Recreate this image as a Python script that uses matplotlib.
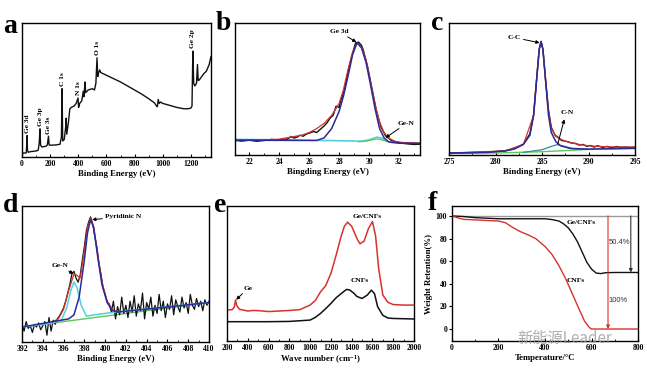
import numpy as np
import matplotlib
matplotlib.use("Agg")
import matplotlib.pyplot as plt
from matplotlib.ticker import MultipleLocator

plt.rcParams['font.family'] = ['Liberation Serif', 'DejaVu Serif']
plt.rcParams['font.weight'] = 'bold'
plt.rcParams['mathtext.fontset'] = 'custom'
plt.rcParams['mathtext.rm'] = 'Liberation Serif:bold'
plt.rcParams['mathtext.it'] = 'Liberation Serif:bold'

W, H = 647, 371

# ---- a: XPS survey (eV, intensity) ----
a_x = [0, 10, 30, 33, 36, 39, 45, 60, 100, 115, 122, 128, 132, 140, 170, 180, 188, 193, 200,
       240, 270, 280, 285, 289, 300, 310, 314, 318, 330, 340, 350, 370, 385, 398, 402, 410,
       425, 435, 440, 448, 452, 470, 500, 515, 525, 533, 538, 545, 552, 560, 580, 600, 650,
       700, 750, 800, 850, 900, 940, 957, 962, 968, 975, 985, 1000, 1050, 1100, 1150, 1180,
       1200, 1208, 1214, 1220, 1228, 1240, 1247, 1252, 1260, 1290, 1310, 1330, 1343]
a_y = [0.02, 0.03, 0.03, 0.08, 0.16, 0.05, 0.035, 0.04, 0.045, 0.05, 0.10, 0.21, 0.09, 0.075,
       0.08, 0.09, 0.155, 0.09, 0.088, 0.09, 0.095, 0.15, 0.51, 0.12, 0.13, 0.22, 0.29, 0.17,
       0.26, 0.36, 0.37, 0.38, 0.40, 0.44, 0.37, 0.40, 0.42, 0.49, 0.45, 0.56, 0.48, 0.50,
       0.51, 0.50, 0.55, 0.74, 0.60, 0.63, 0.65, 0.63, 0.62, 0.61, 0.585, 0.56, 0.53, 0.50,
       0.47, 0.435, 0.405, 0.38, 0.375, 0.43, 0.40, 0.41, 0.40, 0.385, 0.37, 0.36, 0.36,
       0.365, 0.38, 0.79, 0.55, 0.53, 0.55, 0.69, 0.57, 0.575, 0.62, 0.64, 0.69, 0.75]
a_peaks = ["Ge 3d", "Ge 3p", "Ge 3s", "C 1s", "N 1s", "O 1s", "Ge 2p"]
a_peak_x = [36, 128, 188, 285, 400, 533, 1214]
a_peak_y = [0.17, 0.22, 0.165, 0.52, 0.45, 0.75, 0.80]

# ---- b: Ge 3d ----
b_dx = [21.1, 21.5, 22.0, 22.5, 23.0, 23.5, 24.0, 24.3, 24.5, 24.8, 25.0, 25.2, 25.4, 25.6,
        25.8, 26.0, 26.3, 26.5, 26.7, 27.0, 27.2, 27.4, 27.6, 27.8, 28.0, 28.1, 28.3, 28.5,
        28.7, 28.9, 29.1, 29.3, 29.5, 29.6, 29.9, 30.2, 30.5, 30.8, 31.1, 31.5, 32.0, 32.5,
        33.0, 33.4]
b_dy = [0.11, 0.105, 0.112, 0.104, 0.11, 0.118, 0.112, 0.124, 0.118, 0.14, 0.128, 0.136,
        0.15, 0.142, 0.158, 0.165, 0.178, 0.17, 0.19, 0.22, 0.245, 0.28, 0.3, 0.37, 0.36,
        0.41, 0.47, 0.58, 0.68, 0.77, 0.85, 0.855, 0.83, 0.8, 0.67, 0.5, 0.33, 0.21, 0.145,
        0.11, 0.092, 0.085, 0.08, 0.082]
b_rx = [21.1, 23.0, 24.0, 24.5, 25.0, 25.5, 26.0, 26.5, 27.0, 27.5, 28.0, 28.3, 28.6, 28.9,
        29.2, 29.5, 29.8, 30.1, 30.4, 30.7, 31.0, 31.3, 31.7, 32.2, 33.4]
b_ry = [0.115, 0.115, 0.12, 0.13, 0.14, 0.15, 0.17, 0.2, 0.24, 0.3, 0.39, 0.5, 0.65, 0.78,
        0.848, 0.82, 0.72, 0.55, 0.38, 0.25, 0.17, 0.13, 0.105, 0.095, 0.09]
b_bx = [21.1, 26.5, 27.0, 27.5, 28.0, 28.3, 28.6, 28.9, 29.2, 29.5, 29.8, 30.1, 30.4, 30.7,
        31.0, 31.3, 31.6, 32.0, 33.4]
b_by = [0.112, 0.11, 0.13, 0.2, 0.33, 0.45, 0.6, 0.76, 0.85, 0.81, 0.7, 0.53, 0.35, 0.2,
        0.13, 0.1, 0.095, 0.09, 0.088]
b_cx = [21.1, 25.0, 29.5, 30.0, 30.5, 30.8, 31.2, 31.5, 33.4]
b_cy = [0.118, 0.114, 0.105, 0.115, 0.135, 0.13, 0.105, 0.095, 0.088]
b_gx = [29.3, 29.8, 30.3, 30.6, 31.0, 31.4, 32.0]
b_gy = [0.1, 0.104, 0.118, 0.122, 0.11, 0.098, 0.092]

# ---- c: C 1s ----
c_dx = [275, 277, 279, 281, 282, 283, 283.7, 284.1, 284.4, 284.7, 284.9, 285.1, 285.4, 285.7,
        286.0, 286.4, 286.8, 287.1, 287.5, 287.8, 288.2, 288.6, 289.0, 289.4, 289.8, 290.2,
        290.6, 291.0, 291.5, 292.0, 292.5, 293.0, 293.5, 294.0, 294.5, 295]
c_dy = [0.015, 0.018, 0.022, 0.032, 0.047, 0.082, 0.16, 0.31, 0.56, 0.8, 0.86, 0.8, 0.56,
        0.34, 0.21, 0.15, 0.13, 0.11, 0.105, 0.1, 0.09, 0.088, 0.075, 0.08, 0.066, 0.072,
        0.06, 0.07, 0.058, 0.065, 0.055, 0.064, 0.058, 0.06, 0.057, 0.06]
c_rx = [275, 281, 283, 284.1, 284.4, 284.7, 284.9, 285.1, 285.4, 285.7, 286.0, 286.5, 287.0,
        287.5, 288.0, 289.0, 290.0, 291.0, 293.0, 295]
c_ry = [0.015, 0.03, 0.08, 0.3, 0.55, 0.8, 0.86, 0.8, 0.55, 0.33, 0.2, 0.14, 0.12, 0.105,
        0.095, 0.08, 0.07, 0.065, 0.06, 0.06]
c_bx = [275, 279, 281, 282, 283, 283.7, 284.1, 284.4, 284.7, 284.9, 285.1, 285.4, 285.7,
        286.0, 286.5, 287.0, 288.0, 290.0, 295]
c_by = [0.015, 0.02, 0.03, 0.045, 0.08, 0.15, 0.3, 0.55, 0.8, 0.86, 0.8, 0.55, 0.3, 0.17,
        0.1, 0.07, 0.05, 0.045, 0.05]
c_gx = [275, 280, 285, 288, 290, 295]
c_gy = [0.012, 0.015, 0.025, 0.035, 0.042, 0.052]
c_nx = [283, 285, 286, 286.6, 287.3, 288.5, 290]
c_ny = [0.02, 0.04, 0.065, 0.078, 0.068, 0.045, 0.042]

# ---- d: N 1s ----
d_dx = np.arange(392, 410.01, 0.2)
d_dy = [0.13, 0.08, 0.15, 0.10, 0.12, 0.07, 0.13, 0.11, 0.14, 0.09, 0.12, 0.15, 0.05, 0.18,
        0.08, 0.16, 0.13, 0.17, 0.19, 0.22, 0.25, 0.30, 0.36, 0.42, 0.50, 0.52, 0.47, 0.44,
        0.49, 0.60, 0.70, 0.82, 0.88, 0.92, 0.87, 0.78, 0.70, 0.58, 0.50, 0.40, 0.35, 0.29,
        0.28, 0.22, 0.30, 0.17, 0.26, 0.20, 0.33, 0.21, 0.27, 0.18, 0.30, 0.22, 0.34, 0.19,
        0.28, 0.23, 0.36, 0.17, 0.29, 0.24, 0.33, 0.19, 0.27, 0.21, 0.35, 0.23, 0.30, 0.18,
        0.28, 0.24, 0.34, 0.20, 0.31, 0.26, 0.22, 0.33, 0.25, 0.29, 0.21, 0.35, 0.27, 0.24,
        0.32, 0.26, 0.30, 0.23, 0.31, 0.27, 0.30]
d_gx = [392, 410]
d_gy = [0.11, 0.29]
d_cx = [392, 395, 395.8, 396.3, 396.7, 397.0, 397.3, 397.7, 398.2, 399.0, 400.0, 401.0, 410]
d_cy = [0.11, 0.14, 0.16, 0.25, 0.38, 0.44, 0.40, 0.27, 0.19, 0.2, 0.21, 0.22, 0.29]
d_bx = [392, 396.5, 397.0, 397.5, 398.0, 398.3, 398.6, 398.9, 399.3, 399.7, 400.2, 400.7,
        401.2, 410]
d_by = [0.11, 0.17, 0.2, 0.33, 0.6, 0.8, 0.9, 0.84, 0.62, 0.42, 0.29, 0.23, 0.22, 0.29]
d_rx = [395.0, 395.5, 396.0, 396.5, 397.0, 397.3, 397.6, 398.0, 398.3, 398.6, 398.9, 399.3,
        399.7, 400.2, 400.7, 401.2]
d_ry = [0.15, 0.17, 0.24, 0.38, 0.5, 0.49, 0.47, 0.67, 0.84, 0.91, 0.85, 0.64, 0.44, 0.3,
        0.24, 0.22]

# ---- e: Raman ----
e_kx = [200, 400, 600, 800, 1000, 1050, 1100, 1150, 1200, 1250, 1300, 1350, 1380, 1420, 1450,
        1500, 1550, 1590, 1620, 1650, 1700, 1750, 1800, 1900, 2000]
e_ky = [0.143, 0.143, 0.143, 0.145, 0.155, 0.175, 0.204, 0.24, 0.278, 0.32, 0.352, 0.382,
        0.378, 0.355, 0.33, 0.315, 0.34, 0.377, 0.35, 0.254, 0.19, 0.17, 0.167, 0.165, 0.163]
e_rx = [200, 250, 270, 282, 295, 320, 400, 450, 500, 600, 700, 800, 900, 1000, 1050, 1100,
        1150, 1200, 1250, 1300, 1330, 1360, 1400, 1450, 1480, 1520, 1560, 1600, 1630, 1660,
        1700, 1750, 1800, 1900, 2000]
e_ry = [0.229, 0.232, 0.25, 0.303, 0.26, 0.235, 0.222, 0.226, 0.225, 0.218, 0.222, 0.226,
        0.232, 0.266, 0.3, 0.364, 0.41, 0.5, 0.635, 0.78, 0.85, 0.88, 0.85, 0.76, 0.72, 0.74,
        0.83, 0.885, 0.78, 0.537, 0.34, 0.286, 0.27, 0.266, 0.266]

# ---- f: TGA ----
f_t = [0, 50, 100, 150, 200, 300, 400, 430, 460, 480, 500, 520, 540, 560, 580, 600, 620, 640,
       660, 700, 800]
f_ge = [100, 99.5, 98.5, 98, 97.5, 97.5, 97.5, 96.8, 95.5, 93, 89.5, 84, 77, 68, 59, 53,
        49.5, 49, 49.8, 50, 50]
f_t2 = [0, 30, 50, 100, 150, 200, 230, 260, 290, 330, 360, 400, 430, 460, 490, 520, 550, 570,
        590, 600, 800]
f_cnf = [100, 98, 97, 96.5, 96, 95.5, 94, 90, 86.5, 83, 80, 73, 66, 56, 44, 30, 16, 7, 1.5,
         0, 0]

BLACK = '#111111'
RED = '#d8322c'
BLUE = '#2c2a9a'
CYAN = '#52cfe0'
GREEN = '#5cc85a'

fig = plt.figure(figsize=(W / 100, H / 100), dpi=100)


def box(l, t, r, b):
    return fig.add_axes([l / W, 1 - b / H, (r - l) / W, (b - t) / H])


def style(ax, xmaj, xmin, xlabel):
    ax.xaxis.set_major_locator(MultipleLocator(xmaj))
    ax.xaxis.set_minor_locator(MultipleLocator(xmin))
    ax.tick_params(axis='x', which='both', direction='in', labelsize=5.5, pad=2.5)
    ax.tick_params(axis='x', which='major', length=2.5, width=0.8)
    ax.tick_params(axis='x', which='minor', length=1.5, width=0.6)
    ax.set_yticks([])
    for s in ax.spines.values():
        s.set_linewidth(1.0)
    for lab in ax.get_xticklabels():
        lab.set_fontweight('bold')
    ax.set_xlabel(xlabel, fontsize=6.3, fontweight='bold', labelpad=1)


def note(ax, text, xy, xytext, **kw):
    ax.annotate(text, xy=xy, xytext=xytext, fontsize=5.3, fontweight='bold',
                ha=kw.pop('ha', 'center'), va='center',
                arrowprops=dict(arrowstyle='-|>', color='black', lw=0.7,
                                mutation_scale=5, shrinkA=0, shrinkB=0), **kw)


# a
ax = box(22, 23, 211, 157)
ax.plot(a_x, a_y, color=BLACK, lw=1.0)
ax.set_xlim(0, 1343)
ax.set_ylim(0, 1)
style(ax, 200, 100, 'Binding Energy (eV)')
for name, px_, py_ in zip(a_peaks, a_peak_x, a_peak_y):
    ax.text(px_, py_ + 0.01, name, rotation=90, fontsize=5.3, fontweight='bold',
            ha='center', va='bottom')

# b
ax = box(235, 23, 420, 155)
ax.plot(b_cx, b_cy, color=CYAN, lw=1.2)
ax.plot(b_gx, b_gy, color=GREEN, lw=0.9)
ax.plot(b_dx, b_dy, color=BLACK, lw=1.0)
ax.plot(b_rx, b_ry, color=RED, lw=0.9)
ax.plot(b_bx, b_by, color=BLUE, lw=1.1)
ax.set_xlim(21.05, 33.4)
ax.set_ylim(0, 1)
style(ax, 2, 1, 'Bingding Energy (eV)')
note(ax, 'Ge 3d', (29.15, 0.855), (28.0, 0.935))
note(ax, 'Ge-N', (31.1, 0.13), (32.5, 0.24))

# c
ax = box(449, 23, 635, 155)
ax.plot(c_gx, c_gy, color=GREEN, lw=1.0)
ax.plot(c_dx, c_dy, color=BLACK, lw=1.0)
ax.plot(c_rx, c_ry, color=RED, lw=0.9)
ax.plot(c_nx, c_ny, color='#2f8f8a', lw=0.9)
ax.plot(c_bx, c_by, color=BLUE, lw=1.1)
ax.set_xlim(275, 295)
ax.set_ylim(0, 1)
style(ax, 5, 2.5, 'Binding Energy (eV)')
note(ax, 'C-C', (284.75, 0.85), (282.0, 0.89))
ax.annotate('', xy=(287.4, 0.27), xytext=(286.7, 0.085),
            arrowprops=dict(arrowstyle='-|>', color='black', lw=0.7, mutation_scale=5,
                            shrinkA=0, shrinkB=0))
ax.text(287.7, 0.32, 'C-N', fontsize=5.3, fontweight='bold', ha='center', va='center')

# d
ax = box(22, 206, 209, 342)
ax.plot(d_gx, d_gy, color=GREEN, lw=1.0)
ax.plot(d_dx, d_dy, color=BLACK, lw=0.9)
ax.plot(d_cx, d_cy, color=CYAN, lw=1.1)
ax.plot(d_rx, d_ry, color=RED, lw=0.9)
ax.plot(d_bx, d_by, color=BLUE, lw=1.1)
ax.set_xlim(392, 410)
ax.set_ylim(0, 1)
style(ax, 2, 1, 'Binding Energy (eV)')
note(ax, 'Pyridinic N', (398.75, 0.9), (400.0, 0.92), ha='left')
note(ax, 'Ge-N', (396.95, 0.5), (395.7, 0.56))

# e
ax = box(227, 206, 414, 341)
ax.plot(e_kx, e_ky, color=BLACK, lw=1.1)
ax.plot(e_rx, e_ry, color=RED, lw=1.1)
ax.set_xlim(200, 2000)
ax.set_ylim(0, 1)
style(ax, 200, 100, 'Wave number (cm$^{-1}$)')
note(ax, 'Ge', (288, 0.305), (400, 0.39))
ax.text(1545, 0.92, 'Ge/CNFs', fontsize=5.3, fontweight='bold', ha='center', va='center')
ax.text(1480, 0.45, 'CNFs', fontsize=5.3, fontweight='bold', ha='center', va='center')

# f
ax = box(452, 206, 638, 341)
ax.axhline(100, color='#9a9a9a', lw=1.0)
ax.plot(f_t, f_ge, color=BLACK, lw=1.0)
ax.plot(f_t2, f_cnf, color=RED, lw=1.0)
ax.set_xlim(0, 800)
ax.set_ylim(-10.6, 108.8)
style(ax, 200, 100, 'Temperature/°C')
ax.set_yticks(np.arange(0, 101, 20))
ax.tick_params(axis='y', direction='out', length=2, width=0.8, labelsize=5.5, pad=1.5)
for lab in ax.get_yticklabels():
    lab.set_fontweight('bold')
ax.set_ylabel('Weight Retention(%)', fontsize=6.3, fontweight='bold', labelpad=2)
ax.annotate('', xy=(671, 0), xytext=(671, 100),
            arrowprops=dict(arrowstyle='-|>', color=RED, lw=0.8, mutation_scale=5,
                            shrinkA=0, shrinkB=0))
ax.annotate('', xy=(769, 50), xytext=(769, 100),
            arrowprops=dict(arrowstyle='-|>', color='#333333', lw=0.8, mutation_scale=5,
                            shrinkA=0, shrinkB=0))
ax.text(722, 76.5, '50.4%', fontsize=5.5, family='Liberation Sans', fontweight='normal',
        color='#333333', ha='center', va='center')
ax.text(714, 25, '100%', fontsize=5.5, family='Liberation Sans', fontweight='normal',
        color='#333333', ha='center', va='center')
ax.text(557, 94.5, 'Ge/CNFs', fontsize=5.3, fontweight='bold', ha='center', va='center')
ax.text(531, 43, 'CNFs', fontsize=5.3, fontweight='bold', ha='center', va='center')

# panel letters
for letter, lx, ly in [('a', 3, 33), ('b', 216, 30), ('c', 431, 30),
                       ('d', 3, 212), ('e', 214, 212), ('f', 428, 210)]:
    fig.text(lx / W, 1 - ly / H, letter, fontsize=20, fontweight='bold', ha='left',
             va='baseline')

# watermark
fig.text(565 / W, 1 - 338 / H, '新能源Leader', fontsize=11, color='#9a9a9a', alpha=0.8,
         family=['Noto Sans CJK SC', 'DejaVu Sans'], fontweight='normal',
         ha='center', va='center')

fig.savefig('out.png', dpi=100)
